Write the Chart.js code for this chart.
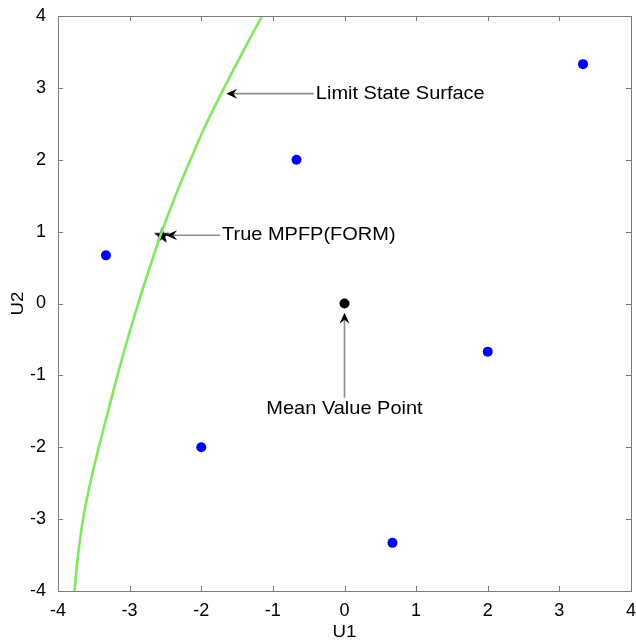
<!DOCTYPE html>
<html><head><meta charset="utf-8">
<script src="https://cdn.jsdelivr.net/npm/chart.js@4.4.1/dist/chart.umd.min.js"></script>
<style>html,body{margin:0;padding:0;background:#fff;overflow:hidden}#wrap{width:636px;height:643px;position:relative}</style>
</head><body><div id="wrap"><canvas id="c"></canvas></div>
<script>
// ---- data ----
const xTicks = [-4, -3, -2, -1, 0, 1, 2, 3, 4];
const yTicks = [-4, -3, -2, -1, 0, 1, 2, 3, 4];
const curveU1 = [-3.77, -3.72, -3.65, -3.55, -3.43, -3.30, -3.17, -3.03, -2.88, -2.72, -2.55, -2.36, -2.15, -1.93, -1.68, -1.42, -1.15];
const curveU2 = [-4, -3.5, -3, -2.5, -2, -1.5, -1, -0.5, 0, 0.5, 1, 1.5, 2, 2.5, 3, 3.5, 4];
const sampleU1 = [-3.33, -2, -0.67, 0.67, 2, 3.33];
const sampleU2 = [0.67, -2, 2, -3.33, -0.67, 3.33];
const meanU1 = [0];
const meanU2 = [0];
const mpfpU1 = [-2.55];
const mpfpU2 = [0.95];
const annLabels = ['Limit State Surface', 'True MPFP(FORM)', 'Mean Value Point'];
const annTextX = [-0.40, -1.71, 0];
const annTextY = [2.92, 0.95, -1.47];
const arrowTailX = [-0.43, -1.74, 0];
const arrowTailY = [2.92, 0.95, -1.31];
const arrowTipX = [-1.65, -2.49, 0];
const arrowTipY = [2.92, 0.95, -0.13];
const annAlign = ['left', 'left', 'center'];

const FONT = '"Liberation Sans", Arial, Helvetica, sans-serif';

// filled star marker
const starCanvas = document.createElement('canvas');
starCanvas.width = 18; starCanvas.height = 18;
(function(){
  const c = starCanvas.getContext('2d');
  c.fillStyle = '#000';
  c.beginPath();
  const cx = 9, cy = 9.5, R = 8.5, r = 3.4;
  for (let i = 0; i < 10; i++) {
    const a = -Math.PI/2 + i*Math.PI/5;
    const rr = i % 2 === 0 ? R : r;
    const px = cx + rr*Math.cos(a), py = cy + rr*Math.sin(a);
    if (i === 0) c.moveTo(px, py); else c.lineTo(px, py);
  }
  c.closePath(); c.fill();
})();

const zip = (xs, ys) => xs.map((x, i) => ({x: x, y: ys[i]}));

const framePlugin = {
  id: 'frame',
  afterDatasetsDraw(chart) {
    const ctx = chart.ctx, xs = chart.scales.x, ys = chart.scales.y;
    for (let i = 0; i < annLabels.length; i++) {
      const x0 = xs.getPixelForValue(arrowTailX[i]), y0 = ys.getPixelForValue(arrowTailY[i]);
      const x1 = xs.getPixelForValue(arrowTipX[i]), y1 = ys.getPixelForValue(arrowTipY[i]);
      const ang = Math.atan2(y1 - y0, x1 - x0);
      const L = 11, W = 5, N = 7;
      ctx.save();
      ctx.strokeStyle = '#8a8a8a'; ctx.lineWidth = 1.6;
      ctx.beginPath();
      ctx.moveTo(x0, y0);
      ctx.lineTo(x1 - Math.cos(ang)*N, y1 - Math.sin(ang)*N);
      ctx.stroke();
      ctx.translate(x1, y1); ctx.rotate(ang);
      ctx.fillStyle = '#000';
      ctx.beginPath();
      ctx.moveTo(0, 0); ctx.lineTo(-L, -W); ctx.lineTo(-N, 0); ctx.lineTo(-L, W);
      ctx.closePath(); ctx.fill();
      ctx.restore();
      const tx = xs.getPixelForValue(annTextX[i]), ty = ys.getPixelForValue(annTextY[i]);
      ctx.save();
      ctx.translate(tx, ty); ctx.scale(1.13, 1);
      ctx.font = '17.7px ' + FONT;
      ctx.fillStyle = '#000';
      ctx.textAlign = annAlign[i]; ctx.textBaseline = 'middle';
      ctx.fillText(annLabels[i], 0, 0);
      ctx.restore();
    }
  },
  afterDraw(chart) {
    const ctx = chart.ctx, a = chart.chartArea, xs = chart.scales.x, ys = chart.scales.y;
    ctx.save();
    ctx.strokeStyle = '#7a7a7a'; ctx.lineWidth = 1;
    ctx.strokeRect(Math.round(a.left) + 0.5, Math.round(a.top) + 0.5, Math.round(a.right - a.left), Math.round(a.bottom - a.top));
    const T = 5;
    ctx.beginPath();
    xTicks.forEach(v => {
      const p = Math.round(xs.getPixelForValue(v)) + 0.5;
      ctx.moveTo(p, a.bottom); ctx.lineTo(p, a.bottom - T);
      ctx.moveTo(p, a.top); ctx.lineTo(p, a.top + T);
    });
    yTicks.forEach(v => {
      const p = Math.round(ys.getPixelForValue(v)) + 0.5;
      ctx.moveTo(a.left, p); ctx.lineTo(a.left + T, p);
      ctx.moveTo(a.right, p); ctx.lineTo(a.right - T, p);
    });
    ctx.stroke();
    ctx.fillStyle = '#000';
    ctx.font = '17px ' + FONT;
    ctx.textAlign = 'center'; ctx.textBaseline = 'middle';
    ctx.save(); ctx.translate((a.left + a.right)/2, 632); ctx.scale(1.1,1); ctx.fillText('U1', 0, 0); ctx.restore();
    ctx.save(); ctx.translate(18, (a.top + a.bottom)/2); ctx.rotate(-Math.PI/2); ctx.scale(1.1,1); ctx.fillText('U2', 0, 0); ctx.restore();
    ctx.restore();
  }
};

new Chart(document.getElementById('c'), {
  type: 'scatter',
  data: {
    datasets: [
      { data: zip(curveU1, curveU2), showLine: true, borderColor: 'rgb(128,232,96)', borderWidth: 2.6,
        pointRadius: 0, tension: 0.3, fill: false },
      { data: zip(sampleU1, sampleU2), pointRadius: 5, pointBackgroundColor: '#0000ff', pointBorderColor: '#0000ff', pointBorderWidth: 0 },
      { data: zip(meanU1, meanU2), pointRadius: 5, pointBackgroundColor: '#000', pointBorderColor: '#000', pointBorderWidth: 0 },
      { data: zip(mpfpU1, mpfpU2), pointStyle: starCanvas, pointRadius: 9 }
    ]
  },
  options: {
    responsive: true, maintainAspectRatio: false, animation: false,
    layout: { autoPadding: false, padding: { top: 16, right: 5, left: 0, bottom: 0 } },
    plugins: { legend: { display: false }, tooltip: { enabled: false } },
    scales: {
      x: {
        type: 'linear', min: -4, max: 4,
        afterBuildTicks: s => { s.ticks = xTicks.map(v => ({ value: v })); },
        afterFit: s => { s.height = 52; s.paddingLeft = 0; s.paddingRight = 0; },
        grid: { display: false }, border: { display: false },
        ticks: { padding: 1, color: '#000', font: { family: FONT, size: 18 }, maxRotation: 0 }
      },
      y: {
        type: 'linear', min: -4, max: 4,
        afterBuildTicks: s => { s.ticks = yTicks.map(v => ({ value: v })); },
        afterFit: s => { s.width = 58; s.paddingTop = 0; s.paddingBottom = 0; },
        grid: { display: false }, border: { display: false },
        ticks: { padding: 4, color: '#000', font: { family: FONT, size: 18 } }
      }
    }
  },
  plugins: [framePlugin]
});
</script>
</body></html>
